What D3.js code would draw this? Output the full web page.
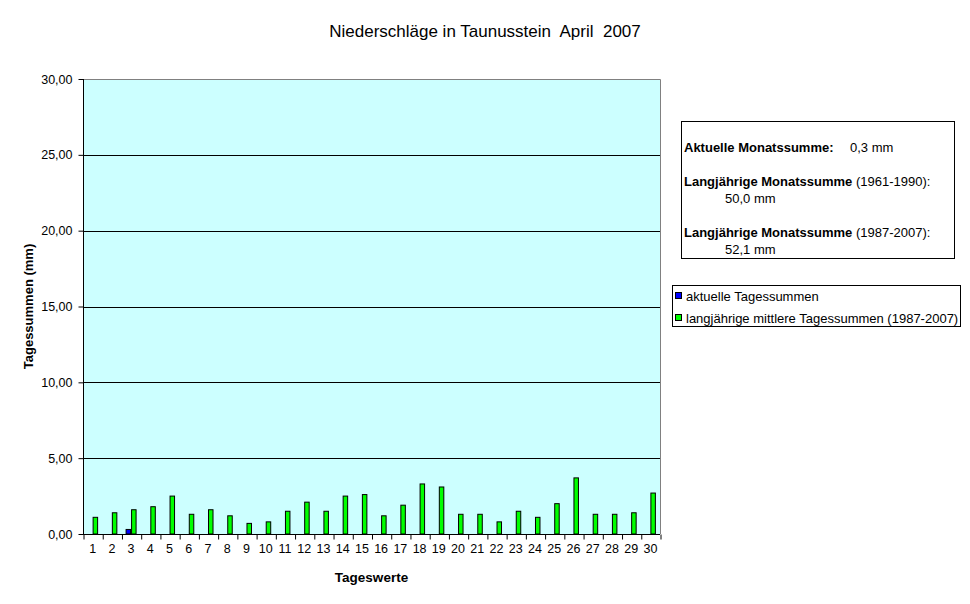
<!DOCTYPE html>
<html><head><meta charset="utf-8">
<script src="https://cdn.jsdelivr.net/npm/d3@7"></script>
<style>
body{margin:0;background:#fff;}
svg{display:block;font-family:"Liberation Sans",Arial,sans-serif;}
</style></head>
<body><svg id="c" width="970" height="604"></svg>
<script>
const days = d3.range(1,31).map(String);
const aktuell = [0,0,0.3,0,0,0,0,0,0,0,0,0,0,0,0,0,0,0,0,0,0,0,0,0,0,0,0,0,0,0];
const langjaehrig = [1.1,1.4,1.6,1.8,2.5,1.3,1.6,1.2,0.7,0.8,1.5,2.1,1.5,2.5,2.6,1.2,1.9,3.3,3.1,1.3,1.3,0.8,1.5,1.1,2.0,3.7,1.3,1.3,1.4,2.7];
const yTicks = [0,5,10,15,20,25,30];
const seriesNames = ["aktuelle Tagessummen","langjährige mittlere Tagessummen (1987-2007)"];
const seriesColors = ["#0000FF","#00FF00"];

const svg = d3.select("#c");
const L=83,R=660,T=79,B=534;
const loc = d3.formatLocale({decimal:",",thousands:".",grouping:[3],currency:["","€"]});
const fmt = loc.format(".2f");

const y = d3.scaleLinear().domain([0,30]).range([B,T]);
const x = d3.scaleBand().domain(days).range([L,R]).paddingInner(1.5/3.5).paddingOuter(0.75/3.5);
const xs = d3.scaleBand().domain([0,1]).range([0,x.bandwidth()]);
const xt = d3.scaleLinear().domain([0,30]).range([L,R]);

svg.append("rect").attr("x",L).attr("y",T).attr("width",R-L).attr("height",B-T).attr("fill","#CCFFFF");
// gridlines
svg.append("g").selectAll("line").data(yTicks.filter(v=>v>0&&v<30)).join("line")
  .attr("x1",L).attr("x2",R).attr("y1",d=>Math.round(y(d))+0.5).attr("y2",d=>Math.round(y(d))+0.5)
  .attr("stroke","#000").attr("stroke-width",1);
// top and right border grey
svg.append("path").attr("d",`M${L},${T+0.5}H${R+0.5}V${B}`).attr("fill","none").attr("stroke","#808080");

// bars
const data = days.map((d,i)=>({d, vals:[aktuell[i],langjaehrig[i]]}));
const g = svg.append("g");
data.forEach(row=>{
  row.vals.forEach((v,k)=>{
    if(v<=0) return;
    g.append("rect")
      .attr("x",x(row.d)+xs(k)+0.5).attr("y",y(v))
      .attr("width",xs.bandwidth()-1).attr("height",y(0)-y(v))
      .attr("fill",seriesColors[k]).attr("stroke","#000").attr("stroke-width",1);
  });
});

// y axis
const ya = svg.append("g").attr("transform",`translate(${L+0.5},0)`)
  .call(d3.axisLeft(y).tickValues(yTicks).tickFormat(fmt).tickSize(5).tickPadding(6));
ya.select(".domain").attr("d",`M0,${T}V${B}`).attr("stroke","#000");
ya.selectAll("text").attr("font-size",12.5).attr("font-family","Liberation Sans, Arial").attr("fill","#000");

// x axis tick marks
const xa = svg.append("g").attr("transform",`translate(0,${B+0.5})`)
  .call(d3.axisBottom(xt).tickValues(d3.range(31)).tickFormat("").tickSize(5));
xa.select(".domain").attr("d",`M${L},0H${R}`).attr("stroke","#000");
xa.selectAll(".tick line").attr("transform","translate(0.5,0)");
// x labels
const xl = svg.append("g").attr("transform",`translate(0,${B})`)
  .call(d3.axisBottom(x).tickSize(0).tickPadding(8));
xl.select(".domain").remove();
xl.selectAll("text").attr("font-size",12.5).attr("font-family","Liberation Sans, Arial").attr("fill","#000").attr("dy","0.9em");

// titles
svg.append("text").attr("x",485).attr("y",37).attr("text-anchor","middle").attr("font-size",17).text("Niederschläge in Taunusstein  April  2007").style("white-space","pre");
svg.append("text").attr("x",(L+R)/2).attr("y",582).attr("text-anchor","middle").attr("font-size",13.5).attr("font-weight","bold").text("Tageswerte");
svg.append("text").attr("transform",`translate(33,${(T+B)/2}) rotate(-90)`).attr("text-anchor","middle").attr("font-size",13).attr("font-weight","bold").text("Tagessummen (mm)");

// info box
svg.append("rect").attr("x",681.5).attr("y",121.5).attr("width",273).attr("height",137).attr("fill","#fff").attr("stroke","#000");
const info = svg.append("g").attr("font-size",13);
const t1 = info.append("text").attr("x",684).attr("y",152);
t1.append("tspan").attr("font-weight","bold").text("Aktuelle Monatssumme:");
info.append("text").attr("x",850).attr("y",152).text("0,3 mm");
const t2 = info.append("text").attr("x",684).attr("y",186);
t2.append("tspan").attr("font-weight","bold").text("Langjährige Monatssumme");
t2.append("tspan").text(" (1961-1990):");
info.append("text").attr("x",725).attr("y",203).text("50,0 mm");
const t3 = info.append("text").attr("x",684).attr("y",237);
t3.append("tspan").attr("font-weight","bold").text("Langjährige Monatssumme");
t3.append("tspan").text(" (1987-2007):");
info.append("text").attr("x",725).attr("y",254).text("52,1 mm");

// legend
svg.append("rect").attr("x",672.5).attr("y",285.5).attr("width",288).attr("height",41).attr("fill","#fff").attr("stroke","#000");
const lg = svg.append("g").selectAll("g").data(seriesNames).join("g")
  .attr("transform",(d,i)=>`translate(675,${292+i*22})`);
lg.append("rect").attr("x",0.5).attr("y",0.5).attr("width",6).attr("height",6).attr("fill",(d,i)=>seriesColors[i]).attr("stroke","#000");
lg.append("text").attr("x",11).attr("y",8.5).attr("font-size",13).text(d=>d);
</script></body></html>
